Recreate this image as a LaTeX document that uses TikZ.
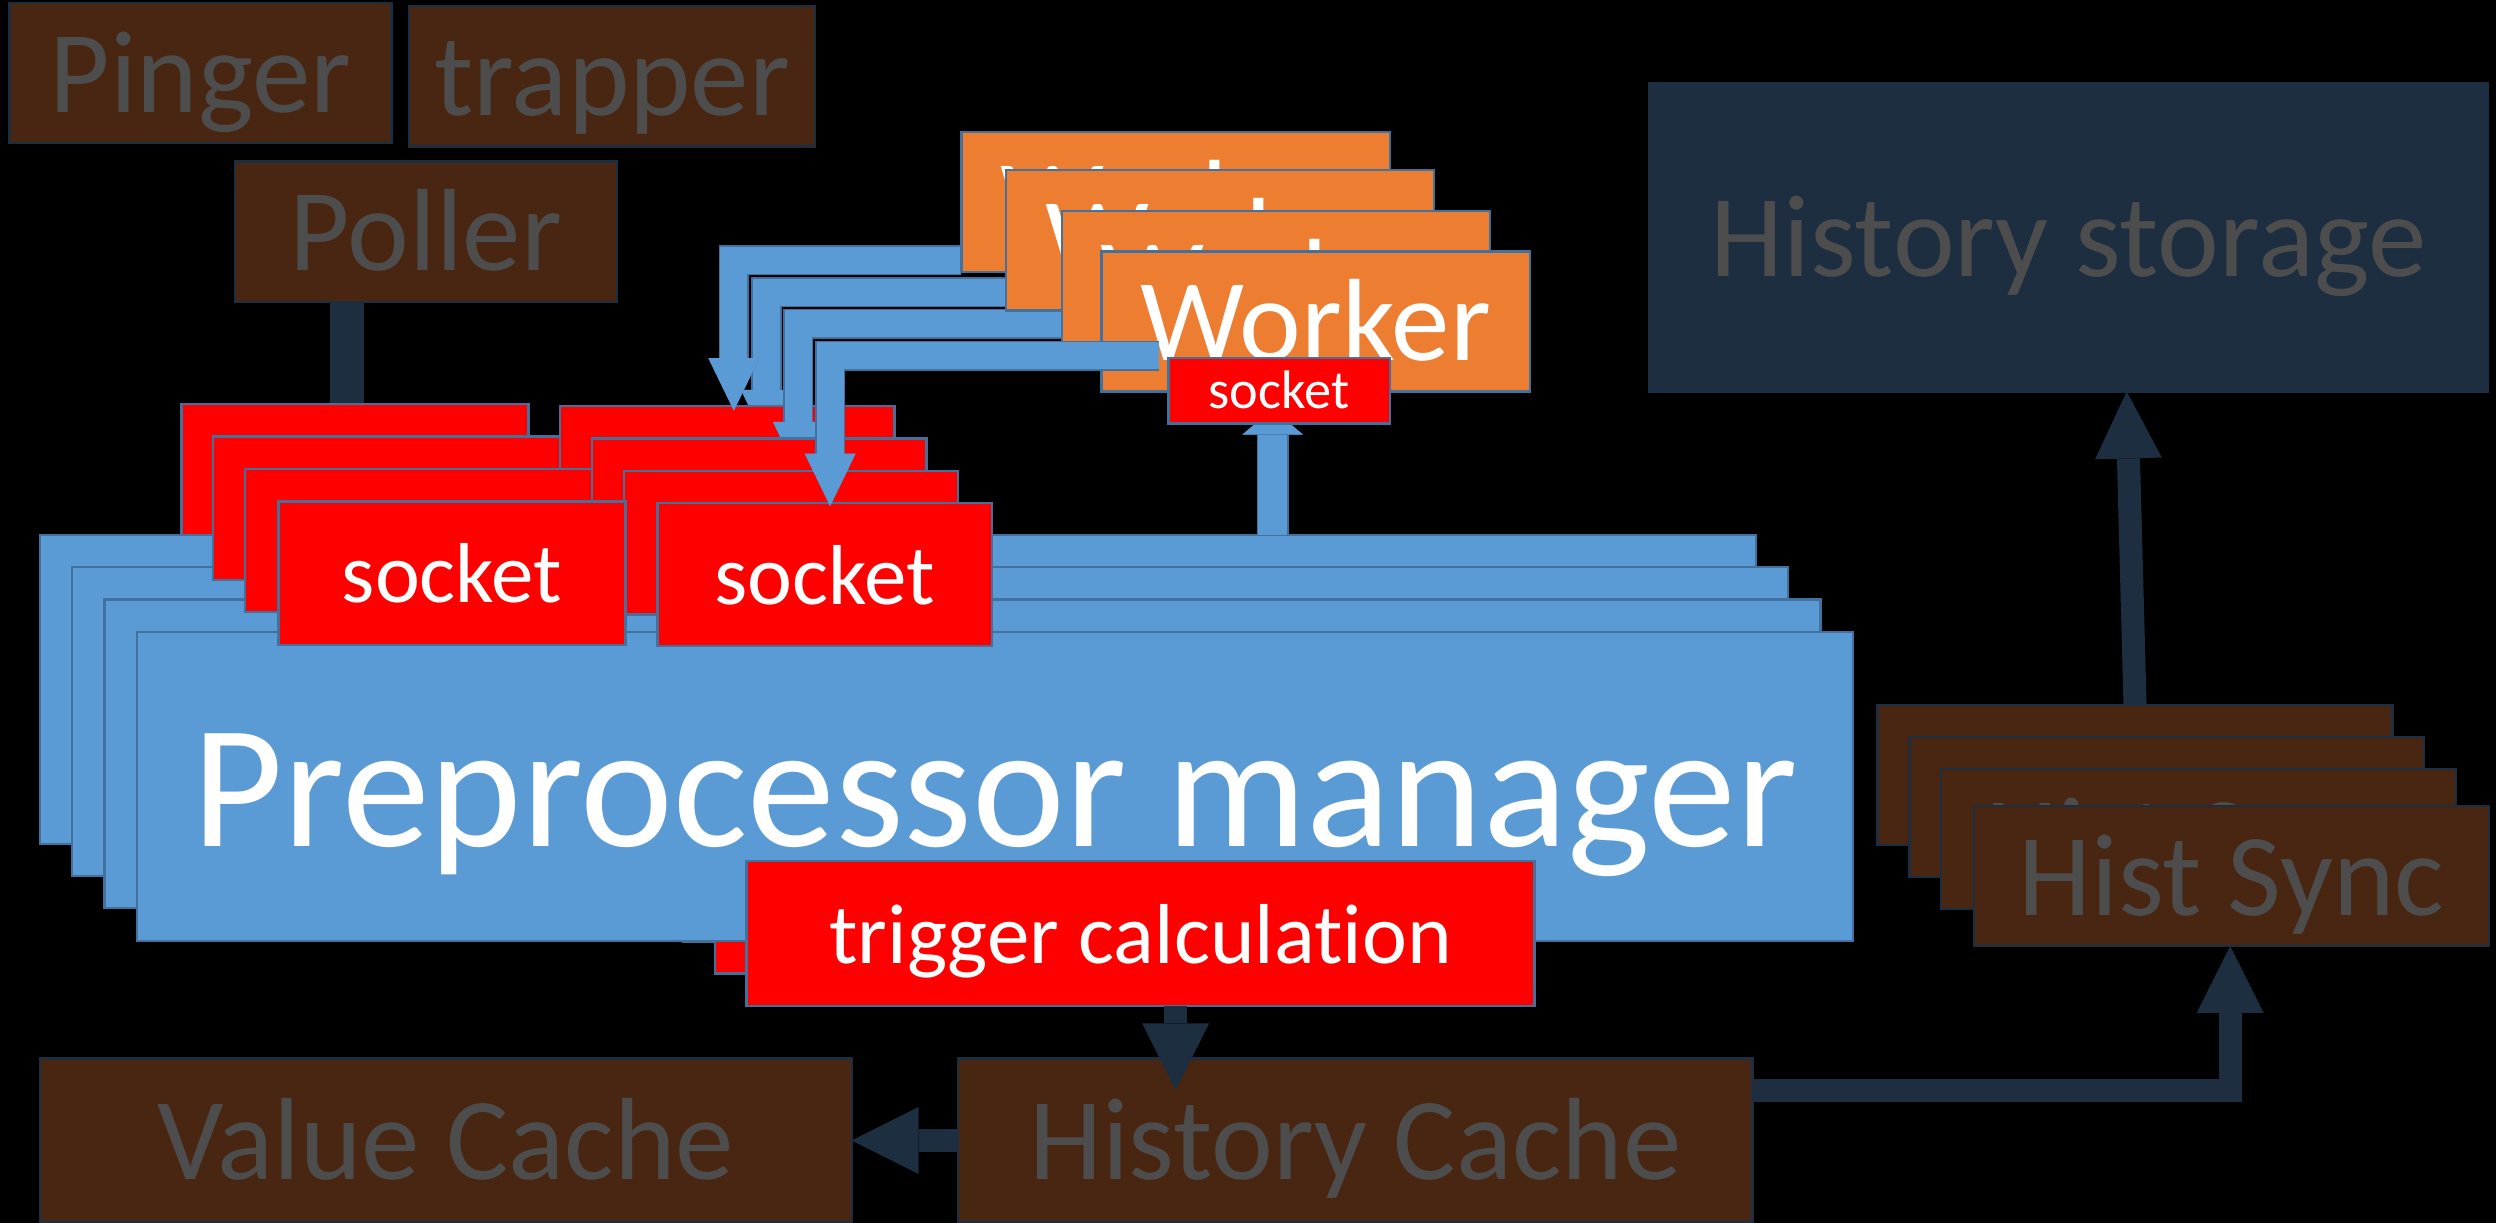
\documentclass[tikz,border=0pt]{standalone}
\usepackage{fontspec}
\setmainfont{Carlito}[Ligatures={NoCommon,NoRare}]
\usetikzlibrary{arrows.meta,calc}
\definecolor{brownfill}{RGB}{72,38,18}
\definecolor{graytxt}{RGB}{77,77,77}
\definecolor{navy}{RGB}{29,46,64}
\definecolor{pblue}{RGB}{91,155,213}
\definecolor{bord}{RGB}{65,113,156}
\definecolor{orng}{RGB}{237,125,49}
\definecolor{redb}{RGB}{255,0,0}
\newcommand{\fbig}{\fontsize{31.4pt}{37pt}\selectfont}
\newcommand{\fmed}{\fontsize{20.9pt}{25pt}\selectfont}
\newcommand{\fsml}{\fontsize{15.2pt}{18pt}\selectfont}
\newcommand{\ftny}{\fontsize{9.7pt}{12pt}\selectfont}
\pgfdeclarelayer{bgl}
\pgfdeclarelayer{arB}
\pgfdeclarelayer{stA}
\pgfdeclarelayer{arC}
\pgfdeclarelayer{arF}
\pgfsetlayers{bgl,arB,stA,arC,main,arF}
\begin{document}
\begin{tikzpicture}[x=0.01cm,y=-0.01cm,
  sz/.style 2 args={minimum width=#1*0.01cm, minimum height=#2*0.01cm},
  box/.style={rectangle, anchor=north west, inner sep=0pt, outer sep=0pt, line width=0.4pt},
  bbox/.style={box, fill=brownfill, draw=navy, text=graytxt},
  bluebox/.style={box, fill=pblue, draw=bord, text=white},
  redbox/.style={box, fill=redb, draw=bord, text=white},
  orbox/.style={box, fill=orng, draw=bord, text=white},
  bigtxt/.style={font=\fbig, text height=21.4pt, text depth=0pt},
  medtxt/.style={font=\fmed, text height=14.0pt, text depth=0pt},
  smltxt/.style={font=\fsml, text height=10.6pt, text depth=0pt},
  tnytxt/.style={font=\ftny, text height=6.3pt, text depth=0pt},
  barrow/.style={draw=pblue, line width=0.17cm, line join=miter,
    -{Triangle[width=0.32cm,length=0.33cm,line width=0pt]},
    preaction={draw=bord, line width=0.19cm}},
  barrowS/.style={draw=pblue, line width=0.18cm,
    -{Triangle[width=0.38cm,length=0.16cm,line width=0pt]},
    preaction={draw=bord, line width=0.2cm}},
  narrow/.style={draw=navy, line width=0.145cm, line join=miter,
    -{Triangle[width=0.42cm,length=0.42cm,line width=0pt]}},
  nline/.style={draw=navy, line width=0.21cm}
]
\useasboundingbox (0,0) rectangle (1568,768);
\begin{pgfonlayer}{bgl}
  \fill[black] (0,0) rectangle (1568,768);
\end{pgfonlayer}

% top-left brown boxes
\node[bbox, sz={240}{88}, medtxt] (pinger) at (6,2) {Pinger};
\node[bbox, sz={255}{88}, medtxt] (trapper) at (257,4) {trapper};
\node[bbox, sz={240}{88}, medtxt] (poller) at (147.5,101.5) {Poller};

% history storage
\node[box, fill=navy, draw=navy, text=graytxt, sz={527}{194}, medtxt] (hstore) at (1036,52) {History storage};

% first layer of the preprocessor stack
\begin{pgfonlayer}{stA}
  \node[redbox, sz={218}{90}] (l1) at (114,254) {};
  \node[bluebox, sz={1078}{194}] (p1) at (25,336) {};
  \node[redbox, sz={210}{90}] (r1) at (352,255) {};
  \node[redbox, sz={495}{91}] (t1) at (409,481) {};
\end{pgfonlayer}

% remaining layers
\node[bluebox, sz={1078}{194}] (p2) at (45.3,356.3) {};
\node[redbox, sz={218}{90}] (l2) at (134,274.3) {};
\node[redbox, sz={210}{90}] (r2) at (372,275.5) {};
\node[redbox, sz={495}{91}] (t2) at (429,501) {};

\node[bluebox, sz={1078}{194}] (p3) at (65.6,376.6) {};
\node[redbox, sz={218}{90}] (l3) at (154,294.6) {};
\node[redbox, sz={210}{90}] (r3) at (392,296) {};
\node[redbox, sz={495}{91}] (t3) at (449,520.5) {};

\node[bluebox, sz={1078}{194}, bigtxt] (p4) at (86,397) {Preprocessor manager};
\node[redbox, sz={218}{90}, smltxt] (l4) at (175,315) {socket};
\node[redbox, sz={210}{90}, smltxt] (r4) at (413,316) {socket};
\node[redbox, sz={495}{91}, smltxt] (t4) at (469,541) {trigger calculation};

% workers
\node[orbox, sz={269}{88}, medtxt] (w1) at (604,83) {Worker};
\node[orbox, sz={269}{88}, medtxt] (w2) at (632,107) {Worker};
\node[orbox, sz={269}{88}, medtxt] (w3) at (667,132.5) {Worker};
\node[orbox, sz={269}{88}, medtxt] (w4) at (692,158) {Worker};
\node[redbox, sz={139}{41}, tnytxt] (ws) at (734,225) {socket};

% hist sync stack
\node[bbox, sz={323.5}{88}] (h1) at (1179.5,443) {};
\node[bbox, sz={323.5}{88}] (h2) at (1199.5,463) {};
\node[bbox, sz={323.5}{88}, medtxt] (h3) at (1219.5,483) {Hist Sync};
\node[bbox, sz={323.5}{88}, medtxt] (h4) at (1240,506.3) {Hist Sync};

% caches
\node[bbox, sz={510}{103}, medtxt] (vc) at (25,665) {Value Cache};
\node[bbox, sz={499}{103}, medtxt] (hc) at (602,665) {History Cache};

% helper coordinates
\coordinate (pollend) at (218,300);
\coordinate (a1tip) at ($(r1.north west)+(109,3)$);
\coordinate (a2tip) at ($(r2.north west)+(109.5,2.5)$);
\coordinate (a3tip) at ($(r3.north west)+(109.5,2)$);
\coordinate (a4tip) at ($(r4.north west)+(108.5,2)$);
\coordinate (a4start) at ($(w4.west)+(36,21.5)$);
\coordinate (upx) at (799.5,0);
\coordinate (upend) at ($(ws.south -| upx)+(0,-9)$);
\coordinate (trx) at (738.5,0);
\coordinate (trend) at ($(hc.north -| trx)+(0,20)$);

% connectors under the first stack layer
\begin{pgfonlayer}{arB}
  \draw[nline] (poller.south -| pollend) -- (pollend);
  \draw[barrow] (w2.west |- 0,183.5) -| (a2tip);
\end{pgfonlayer}

\begin{pgfonlayer}{arC}
  \draw[barrow] (w1.west |- 0,163.5) -| (a1tip);
  \draw[barrow] (w3.west |- 0,203.5) -| (a3tip);
  \draw[barrowS] (p1.north -| upx) -- (upend);
\end{pgfonlayer}

\begin{pgfonlayer}{arF}
  \draw[barrow] (a4start) -| (a4tip);
  \draw[narrow] (t4.south -| trx) -- (trend);
  \draw[narrow] (hc.west |- 0,716.5) -- (vc.east |- 0,716.5);
  \draw[narrow] (hc.east |- 0,685) -| (h4.south -| 1401,0);
  \draw[narrow] (h1.north) -- (hstore.south -| 1336,0);
\end{pgfonlayer}
\end{tikzpicture}
\end{document}
